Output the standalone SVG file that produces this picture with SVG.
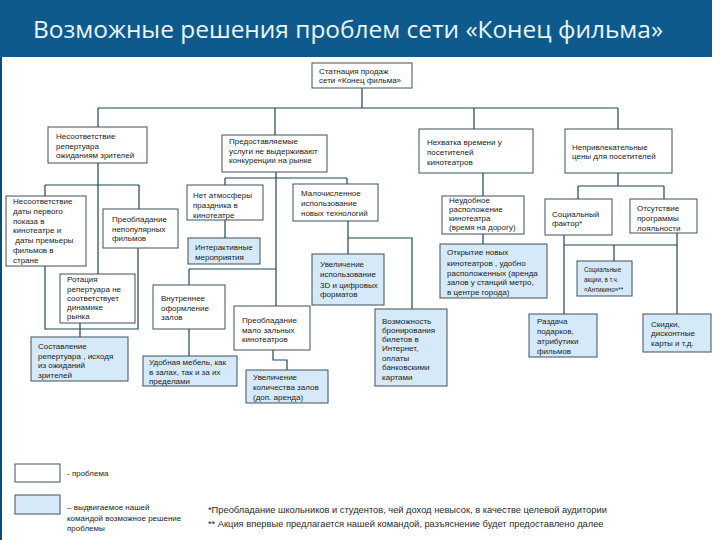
<svg xmlns="http://www.w3.org/2000/svg" width="720" height="540" viewBox="0 0 720 540">
<style>
.b{fill:#ffffff;stroke:#3f5058;stroke-width:1}
.s{fill:#d6e9f8;stroke:#3f5058;stroke-width:1}
.t{font-family:"Liberation Sans",Arial,sans-serif;font-size:8px;fill:#1c1c1c}
.f{font-family:"Liberation Sans",Arial,sans-serif;font-size:9.3px;fill:#2a2a2a}
#connectors path{fill:none;stroke:#1f4756;stroke-width:1.2}
</style>
<rect x="0" y="0" width="720" height="540" fill="#ffffff"/>
<rect x="0" y="0" width="712" height="57" fill="#0e5a8c"/>
<rect x="0" y="57" width="2" height="483" fill="#0d4d78"/>
<text x="33" y="38" font-family="'Open Sans','Liberation Sans',sans-serif" font-size="24" fill="#eaf6fb" textLength="630" lengthAdjust="spacingAndGlyphs">Возможные решения проблем сети «Конец фильма»</text>

<g id="connectors">
<path d="M362,88V108M98,108H618M98,108V127M275,108V135M474,108V129M618,108V129"/>
<path d="M98,163V274M45,185H139M45,185V196M139,185V209"/>
<path d="M45,266V329H138V248M80,323V337"/>
<path d="M276,172V306M225,178H347M225,178V185M347,178V184M189,269H276M189,269V285"/>
<path d="M225,220V238M348,221V254M348,238H412V309M189,329V356M273,350V360H287V370"/>
<path d="M483,173V196M483,234V244"/>
<path d="M618,173V186M578,186H664M578,186V199M664,186V199"/>
<path d="M564,235V314M677,233V314M564,245H677M614,245V261"/>
</g>

<g id="n-root"><rect class="b" x="312" y="63" width="100" height="25"/>
<text class="t"><tspan x="319" y="74">Статнация продаж</tspan><tspan x="319" y="83">сети «Конец фильма»</tspan></text></g>

<g id="n-repertoire"><rect class="b" x="48" y="127" width="99" height="36"/>
<text class="t"><tspan x="56" y="139">Несоответствие</tspan><tspan x="56" y="149">репертуара</tspan><tspan x="56" y="158">ожиданиям зрителей</tspan></text></g>

<g id="n-dates"><rect class="b" x="6" y="196" width="80" height="70"/>
<text class="t"><tspan x="13" y="204">Несоответствие</tspan><tspan x="13" y="214">даты первого</tspan><tspan x="13" y="224">показа в</tspan><tspan x="13" y="233">кинотеатре и</tspan><tspan x="13" y="243"> даты премьеры</tspan><tspan x="13" y="253">фильмов в</tspan><tspan x="13" y="263">стране</tspan></text></g>

<g id="n-unpopular"><rect class="b" x="103" y="209" width="75" height="39"/>
<text class="t"><tspan x="112" y="222">Преобладание</tspan><tspan x="112" y="232">непопулярных</tspan><tspan x="112" y="241">фильмов</tspan></text></g>

<g id="n-rotation"><rect class="b" x="60" y="274" width="75" height="49"/>
<text class="t"><tspan x="67" y="282">Ротация</tspan><tspan x="67" y="292">репертуара не</tspan><tspan x="67" y="301">соответствует</tspan><tspan x="67" y="310">динамике</tspan><tspan x="67" y="319">рынка</tspan></text></g>

<g id="n-compose"><rect class="s" x="31" y="337" width="97" height="44"/>
<text class="t"><tspan x="38" y="349">Составление</tspan><tspan x="38" y="359">репертуара , исходя</tspan><tspan x="38" y="368">из ожиданий</tspan><tspan x="38" y="378">зрителей</tspan></text></g>

<g id="n-services"><rect class="b" x="222" y="135" width="105" height="37"/>
<text class="t"><tspan x="229" y="144">Предоставляемые</tspan><tspan x="229" y="154">услуги не выдерживают</tspan><tspan x="229" y="163">конкуренции на рынке</tspan></text></g>

<g id="n-atmosphere"><rect class="b" x="187" y="185" width="76" height="35"/>
<text class="t"><tspan x="193" y="198">Нет атмосферы</tspan><tspan x="193" y="208">праздника в</tspan><tspan x="193" y="218">кинотеатре</tspan></text></g>

<g id="n-interactive"><rect class="s" x="188" y="238" width="72" height="26"/>
<text class="t"><tspan x="195" y="250">Интерактивные</tspan><tspan x="195" y="260">мероприятия</tspan></text></g>

<g id="n-tech"><rect class="b" x="293" y="184" width="85" height="37"/>
<text class="t"><tspan x="301" y="196">Малочисленное</tspan><tspan x="301" y="206">использование</tspan><tspan x="301" y="216">новых технологий</tspan></text></g>

<g id="n-3d"><rect class="s" x="312" y="254" width="72" height="51"/>
<text class="t"><tspan x="320" y="267">Увеличение</tspan><tspan x="320" y="277">использование</tspan><tspan x="320" y="288">3D и цифровых</tspan><tspan x="320" y="297">форматов</tspan></text></g>

<g id="n-interior"><rect class="b" x="153" y="285" width="72" height="44"/>
<text class="t"><tspan x="161" y="301">Внутреннее</tspan><tspan x="161" y="311">оформление</tspan><tspan x="161" y="320">залов</tspan></text></g>

<g id="n-furniture"><rect class="s" x="143" y="356" width="94" height="30"/>
<text class="t"><tspan x="149" y="365">Удобная мебель, как</tspan><tspan x="149" y="375">в залах, так и за их</tspan><tspan x="149" y="384">пределами</tspan></text></g>

<g id="n-smallhalls"><rect class="b" x="234" y="306" width="76" height="44"/>
<text class="t"><tspan x="242" y="323">Преобладание</tspan><tspan x="242" y="333">мало зальных</tspan><tspan x="242" y="342">кинотеатров</tspan></text></g>

<g id="n-morehalls"><rect class="s" x="246" y="370" width="82" height="33"/>
<text class="t"><tspan x="253" y="380">Увеличение</tspan><tspan x="253" y="390">количества залов</tspan><tspan x="253" y="400">(доп. аренда)</tspan></text></g>

<g id="n-time"><rect class="b" x="419" y="129" width="114" height="44"/>
<text class="t"><tspan x="427" y="145">Нехватка времени у</tspan><tspan x="427" y="155">посетителей</tspan><tspan x="427" y="165">кинотеатров</tspan></text></g>

<g id="n-location"><rect class="b" x="442" y="196" width="82" height="38"/>
<text class="t"><tspan x="449" y="203">Неудобное</tspan><tspan x="449" y="212">расположение</tspan><tspan x="449" y="221">кинотеатра</tspan><tspan x="449" y="230">(время на дорогу)</tspan></text></g>

<g id="n-newcinemas"><rect class="s" x="440" y="244" width="107" height="54"/>
<text class="t"><tspan x="447" y="255">Открытие новых</tspan><tspan x="447" y="266">кинотеатров , удобно</tspan><tspan x="447" y="276">расположенных (аренда</tspan><tspan x="447" y="285">залов у станций метро,</tspan><tspan x="447" y="295">в центре города)</tspan></text></g>

<g id="n-booking"><rect class="s" x="375" y="309" width="72" height="77"/>
<text class="t"><tspan x="382" y="324">Возможность</tspan><tspan x="382" y="333">бронирования</tspan><tspan x="382" y="342">билетов в</tspan><tspan x="382" y="351">Интернет,</tspan><tspan x="382" y="361">оплаты</tspan><tspan x="382" y="370">банковскими</tspan><tspan x="382" y="380">картами</tspan></text></g>

<g id="n-prices"><rect class="b" x="565" y="129" width="107" height="44"/>
<text class="t"><tspan x="572" y="150">Непривлекательные</tspan><tspan x="572" y="159">цены для посетителей</tspan></text></g>

<g id="n-social"><rect class="b" x="545" y="199" width="67" height="36"/>
<text class="t"><tspan x="552" y="217">Социальный</tspan><tspan x="552" y="226">фактор*</tspan></text></g>

<g id="n-loyalty"><rect class="b" x="630" y="199" width="67" height="34"/>
<text class="t"><tspan x="637" y="211">Отсутствие</tspan><tspan x="637" y="221">программы</tspan><tspan x="637" y="231">лояльности</tspan></text></g>

<g id="n-actions"><rect class="s" x="577" y="261" width="55" height="35"/>
<text class="t" style="font-size:6.3px"><tspan x="584" y="272">Социальные</tspan><tspan x="584" y="282">акции, в т.ч.</tspan><tspan x="584" y="292">«Антикино»**</tspan></text></g>

<g id="n-gifts"><rect class="s" x="529" y="314" width="68" height="43"/>
<text class="t"><tspan x="537" y="324">Раздача</tspan><tspan x="537" y="334">подарков,</tspan><tspan x="537" y="344">атрибутики</tspan><tspan x="537" y="354">фильмов</tspan></text></g>

<g id="n-discounts"><rect class="s" x="643" y="314" width="68" height="38"/>
<text class="t"><tspan x="651" y="327">Скидки,</tspan><tspan x="651" y="336">дисконтные</tspan><tspan x="651" y="346">карты и т.д.</tspan></text></g>

<g id="legend">
<rect class="b" x="15" y="464" width="45" height="18"/>
<text class="t" x="67" y="476">- проблема</text>
<rect class="s" x="15" y="495" width="45" height="19"/>
<text class="t"><tspan x="67" y="510">– выдвигаемое нашей</tspan><tspan x="67" y="521">командой возможное решение</tspan><tspan x="67" y="531">проблемы</tspan></text>
</g>

<g id="footnotes">
<text class="f" x="208" y="513">*Преобладание школьников и студентов, чей доход невысок,  в качестве целевой аудитории</text>
<text class="f" x="208" y="527">** Акция впервые предлагается нашей командой, разъяснение будет предоставлено далее</text>
</g>
</svg>
